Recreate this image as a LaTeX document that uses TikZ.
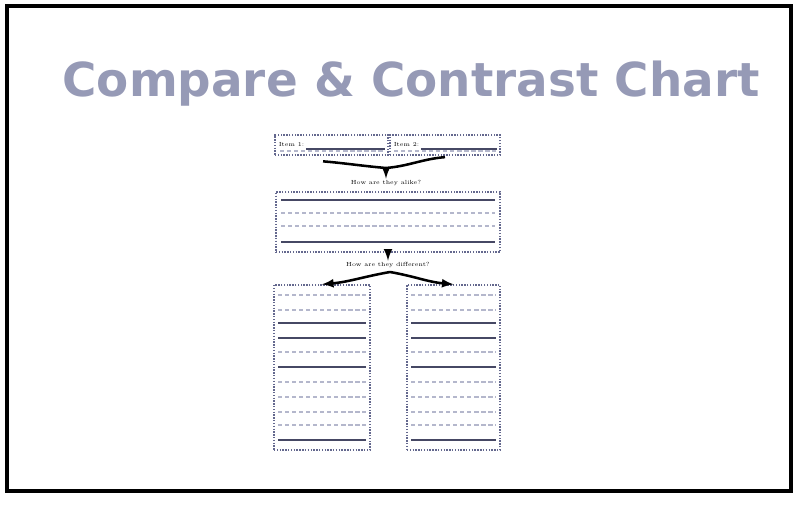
\documentclass[tikz,border=0pt]{standalone}
\usepackage{fontspec}
\newfontfamily\titlefont{DejaVu Sans}
\usetikzlibrary{arrows,shapes}
\definecolor{titlegray}{RGB}{150,154,182}
\definecolor{boxblue}{RGB}{100,104,142}
\definecolor{rowgray}{RGB}{180,183,204}
\definecolor{rowdark}{RGB}{70,72,100}

\begin{document}
\begin{tikzpicture}[x=0.025cm,y=-0.025cm,
	box/.style={draw=boxblue, line width=1pt, densely dotted, inner sep=0pt},
	row/.style={rowgray, line width=1.2pt, densely dashed},
	rowthick/.style={rowdark, line width=1.4pt},
	conn/.style={line width=1.8pt, black},
	small/.style={font=\fontsize{4.2}{5}\selectfont, inner sep=1pt}]
	\useasboundingbox (0,0) rectangle (793,518);
	\draw[line width=2.4pt] (7,6) rectangle (791,491);
	\node [anchor=base, text=titlegray, font=\titlefont\bfseries\fontsize{33.3}{38}\selectfont] (title) at (411,97) {Compare \& Contrast Chart};
	\node [box, minimum width=2.825cm, minimum height=0.5cm] (i1) at (331.5,145) {};
	\node [box, minimum width=2.75cm, minimum height=0.5cm] (i2) at (445,145) {};
	\node [small, anchor=west] (n1) at ([xshift=2pt]i1.west) {Item 1:};
	\node [small, anchor=west] (n2) at ([xshift=2pt]i2.west) {Item 2:};
	\draw[rowthick] (n1.south east) -- ([xshift=-3pt]i1.east |- n1.south east);
	\draw[rowthick] (n2.south east) -- ([xshift=-3pt]i2.east |- n2.south east);
	\draw[row] (280,151) -- (384,151);
	\draw[row] (394,151) -- (496,151);
	\coordinate (j1) at (386,168);
	\node [small] (alike) at (386,183) {How are they alike?};
	\draw[conn] ([xshift=-6pt,yshift=-4pt]i1.south) to[out=-5,in=175] (j1) to[out=5,in=-175] ([yshift=-1pt]i2.south);
	\draw[conn,-latex] (j1) -- (alike);
	\node [box, minimum width=5.6cm, minimum height=1.5cm] (mid) at (388,222) {};
	\foreach \y/\s in {200/rowthick, 213/row, 226/row, 242/rowthick}
	\draw[\s] (281,\y) -- (495,\y);
	\node [small] (diff) at (388,265) {How are they different?};
	\draw[conn,-latex] (mid) -- (diff);
	\coordinate (j2) at (390,272);
	\node [box, minimum width=2.4cm, minimum height=4.125cm] (b1) at (322,367.5) {};
	\node [box, minimum width=2.325cm, minimum height=4.125cm] (b2) at (453.5,367.5) {};
	\draw[conn,-latex] (j2) to[out=190,in=5] (b1.north);
	\draw[conn,-latex] (j2) to[out=-10,in=175] (b2.north);
	\foreach \y/\s in {295/row, 310/row, 323/rowthick, 338/rowthick, 352/row, 367/rowthick,
		382/row, 397/row, 412/row, 425/row, 440/rowthick}
	{
	\draw[\s] (278,\y) -- (366,\y);
	\draw[\s] (411,\y) -- (496,\y);
	}
\end{tikzpicture}
\end{document}
